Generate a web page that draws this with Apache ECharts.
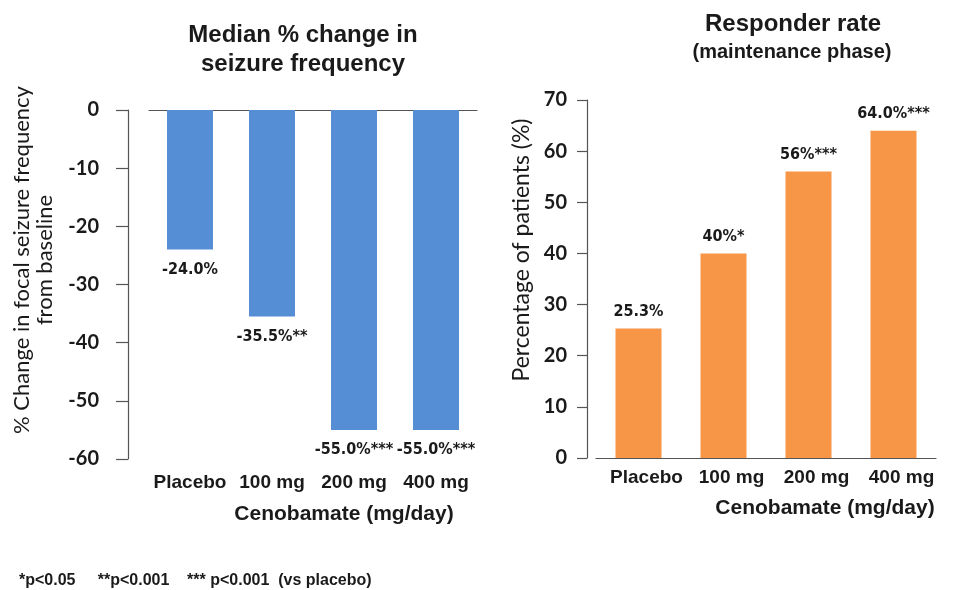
<!DOCTYPE html>
<html>
<head>
<meta charset="utf-8">
<script src="https://cdn.jsdelivr.net/npm/echarts@6/dist/echarts.min.js"></script>
<style>
html,body{margin:0;padding:0;background:#fff;}
#chart{width:967px;height:590px;}
</style>
</head>
<body>
<div id="chart"></div>
<script>
// ---- data ----
const categories = ['Placebo', '100 mg', '200 mg', '400 mg'];
const medianChange = [-24.0, -35.5, -55.0, -55.0];
const medianLabels = ['-24.0%', '-35.5%**', '-55.0%***', '-55.0%***'];
const responderRate = [25.3, 40.0, 56.0, 64.0];
const responderLabels = ['25.3%', '40%*', '56%***', '64.0%***'];
const leftAxis = { min: -60, max: 0, interval: 10 };
const rightAxis = { min: 0, max: 70, interval: 10 };
const xAxisTitle = 'Cenobamate (mg/day)';
const footnote = '*p<0.05     **p<0.001    *** p<0.001  (vs placebo)';

const TXT = '#1a1a1a';
const AX = '#555';
const narrow = '"DejaVu Sans Condensed", "Liberation Sans", sans-serif';
const arial = '"Liberation Sans", Arial, sans-serif';
const calibri = 'Lato, "Open Sans", sans-serif';

const chart = echarts.init(document.getElementById('chart'), null, { renderer: 'canvas' });

const option = {
  backgroundColor: '#fff',
  animation: false,
  title: [
    { text: 'Median % change in\nseizure frequency', left: 298, top: 16, textAlign: 'center',
      textStyle: { fontFamily: arial, fontWeight: 'bold', fontSize: 24, lineHeight: 29, color: TXT } },
    { text: 'Responder rate', left: 788, top: 7, textAlign: 'center',
      textStyle: { fontFamily: arial, fontWeight: 'bold', fontSize: 24, color: TXT } },
    { text: '(maintenance phase)', left: 787, top: 37, textAlign: 'center',
      textStyle: { fontFamily: arial, fontWeight: 'bold', fontSize: 20, color: TXT } },
    { text: footnote, left: 14, top: 568,
      textStyle: { fontFamily: arial, fontWeight: 'bold', fontSize: 16, color: TXT } }
  ],
  graphic: [
    { type: 'text', x: 33, y: 260, rotation: Math.PI / 2,
      style: { text: '% Change in focal seizure frequency\nfrom baseline', font: '22px Lato, sans-serif',
               textAlign: 'center', textVerticalAlign: 'middle', fill: TXT, lineHeight: 23 } },
    { type: 'text', x: 522, y: 250, rotation: Math.PI / 2,
      style: { text: 'Percentage of patients (%)', font: '23px Lato, sans-serif',
               textAlign: 'center', textVerticalAlign: 'middle', fill: TXT } }
  ],
  grid: [
    { left: 149, top: 110, width: 328, height: 349 },
    { left: 596, top: 100, width: 340, height: 358 }
  ],
  xAxis: [
    { gridIndex: 0, type: 'category', data: categories, position: 'top',
      axisLine: { show: true, onZero: false, lineStyle: { color: AX, width: 1.2 } },
      axisTick: { show: false }, axisLabel: { show: false } },
    { gridIndex: 0, type: 'category', data: categories, position: 'bottom',
      axisLine: { show: false, onZero: false }, axisTick: { show: false },
      axisLabel: { interval: 0, margin: 14, fontFamily: arial, fontWeight: 'bold', fontSize: 19, color: TXT },
      name: xAxisTitle, nameLocation: 'middle', nameGap: 45,
      nameTextStyle: { fontFamily: arial, fontWeight: 'bold', fontSize: 21, color: TXT, padding: [0, 0, 0, 62] } },
    { gridIndex: 1, type: 'category', data: categories, position: 'bottom',
      axisLine: { show: true, onZero: false, lineStyle: { color: AX, width: 1.2 } },
      axisTick: { show: false },
      axisLabel: { interval: 0, margin: 10, fontFamily: arial, fontWeight: 'bold', fontSize: 19, color: TXT, padding: [0, 0, 0, 16] },
      name: xAxisTitle, nameLocation: 'middle', nameGap: 40,
      nameTextStyle: { fontFamily: arial, fontWeight: 'bold', fontSize: 21, color: TXT, padding: [0, 0, 0, 118] } }
  ],
  yAxis: [
    { gridIndex: 0, type: 'value', min: leftAxis.min, max: leftAxis.max, interval: leftAxis.interval,
      offset: 21, splitLine: { show: false },
      axisLine: { show: true, lineStyle: { color: AX, width: 1.2 } },
      axisTick: { show: true, length: 12, lineStyle: { color: AX, width: 1.2 } },
      axisLabel: { margin: 29, fontFamily: calibri, fontWeight: 'bold', fontSize: 20, color: TXT } },
    { gridIndex: 1, type: 'value', min: rightAxis.min, max: rightAxis.max, interval: rightAxis.interval,
      offset: 9, splitLine: { show: false },
      axisLine: { show: true, lineStyle: { color: AX, width: 1.2 } },
      axisTick: { show: true, length: 10, lineStyle: { color: AX, width: 1.2 } },
      axisLabel: { margin: 20, fontFamily: calibri, fontWeight: 'bold', fontSize: 20, color: TXT } }
  ],
  series: [
    { type: 'bar', xAxisIndex: 1, yAxisIndex: 0, data: medianChange, barWidth: 46,
      itemStyle: { color: '#558ED5' },
      label: { show: true, position: 'bottom', distance: 12,
               formatter: p => medianLabels[p.dataIndex],
               fontFamily: narrow, fontWeight: 'bold', fontSize: 16, color: TXT } },
    { type: 'bar', xAxisIndex: 2, yAxisIndex: 1, data: responderRate, barWidth: 46,
      itemStyle: { color: '#F79646' },
      label: { show: true, position: 'top', distance: 9,
               formatter: p => responderLabels[p.dataIndex],
               fontFamily: narrow, fontWeight: 'bold', fontSize: 16, color: TXT } }
  ]
};
chart.setOption(option);
</script>
</body>
</html>
